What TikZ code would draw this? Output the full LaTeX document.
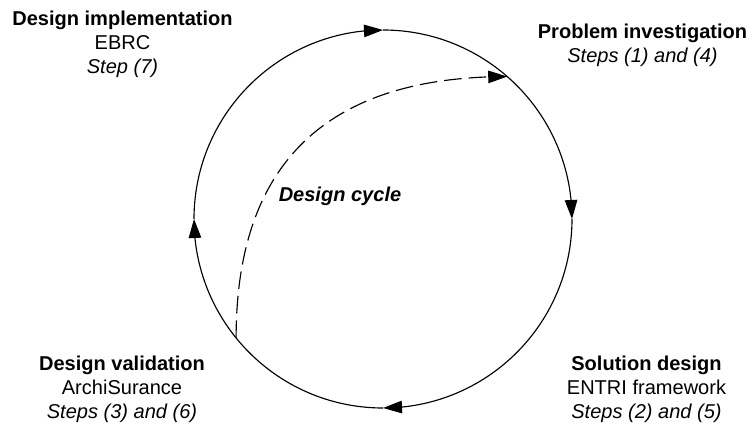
\documentclass[tikz,border=0pt]{standalone}
\usepackage{fontspec}
\setmainfont{Liberation Sans}
\usetikzlibrary{arrows.meta,bending,calc}

\begin{document}
\begin{tikzpicture}[
  cycleline/.style={line width=0.65pt, -{Triangle[length=0.38cm,width=0.25cm]}},
  backline/.style={cycleline, dash pattern=on 10pt off 4pt},
  phase/.style={align=center, inner sep=0pt, anchor=north,
    font=\fontsize{11.4pt}{13.6pt}\selectfont},
]
\useasboundingbox (0,0) rectangle (15,8.54);

% design cycle
\coordinate (c) at (7.66,4.16);
\coordinate (ctop) at ($(c)+(90:3.78)$);
\coordinate (cright) at ($(c)+(0:3.78)$);
\coordinate (cbottom) at ($(c)+(270:3.78)$);
\coordinate (cleft) at ($(c)+(180:3.78)$);
\draw[cycleline] (cleft) arc[start angle=180, end angle=90, radius=3.78];
\draw[cycleline] (ctop) arc[start angle=90, end angle=0, radius=3.78];
\draw[cycleline] (cright) arc[start angle=0, end angle=-90, radius=3.78];
\draw[cycleline] (cbottom) arc[start angle=270, end angle=180, radius=3.78];

% shortcut back to investigation
\coordinate (dstart) at ($(c)+(219:3.78)$);
\coordinate (dend) at ($(c)+(48.9:3.78)$);
\draw[backline] (dstart) .. controls +(0,3.56) and +(-3.54,0) .. (dend);
\node[font=\fontsize{11.4pt}{13.6pt}\selectfont, inner sep=0pt, anchor=base] (cyc) at (6.80,4.50) {\textbf{\textit{Design cycle}}};

% phases
\node[phase] (impl) at (2.45,8.326) {\textbf{Design implementation}\\EBRC\\\textit{Step (7)}};
\node[phase] (inv) at (12.85,8.07) {\textbf{Problem investigation}\\\textit{Steps (1) and (4)}};
\node[phase] (sol) at (12.93,1.43) {\textbf{Solution design}\\ENTRI framework\\\textit{Steps (2) and (5)}};
\node[phase] (val) at (2.44,1.43) {\textbf{Design validation}\\ArchiSurance\\\textit{Steps (3) and (6)}};

\end{tikzpicture}
\end{document}
